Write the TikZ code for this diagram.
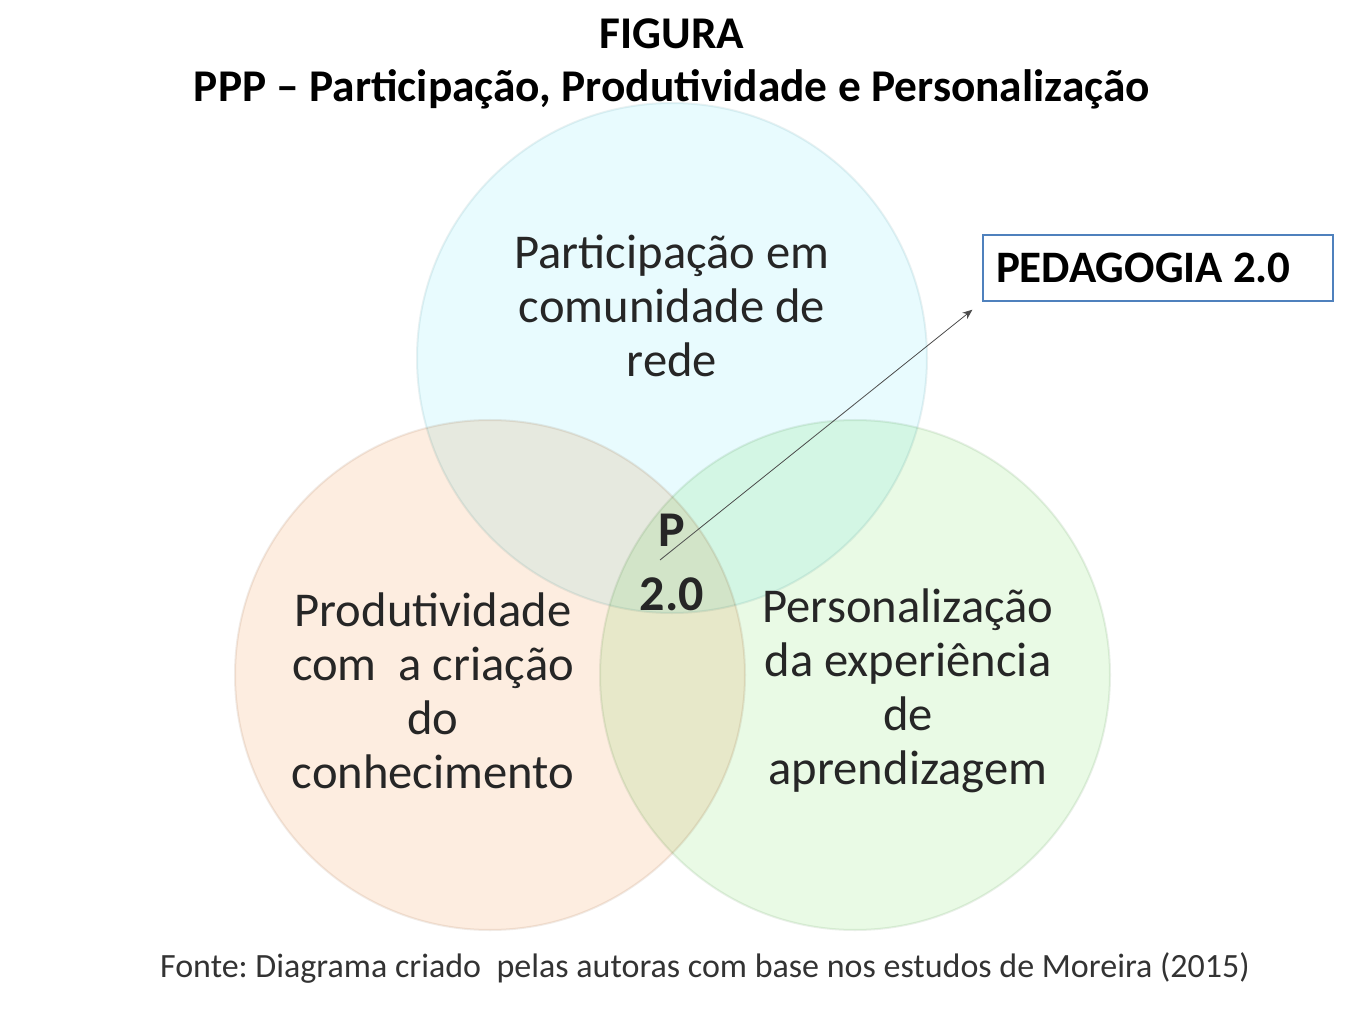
\documentclass[tikz,border=0pt]{standalone}
\usepackage{fontspec}
\setmainfont{Carlito}
\usepackage{xcolor}
\usetikzlibrary{arrows.meta, positioning}

\definecolor{partcol}{RGB}{232,251,254}
\definecolor{prodcol}{RGB}{253,237,224}
\definecolor{perscol}{RGB}{233,250,229}
\definecolor{boxblue}{RGB}{79,129,189}

\frenchspacing
\begin{document}
\begin{tikzpicture}[
    x=0.5pt, y=-0.5pt,
    ring/.style={circle, minimum size=255pt, inner sep=0pt, draw=#1!80!gray!50, fill=#1},
    label/.style={align=center, font=\fontsize{24.3}{27}\selectfont, text=black!85},
    arrow/.style={-{Stealth[length=5pt, width=4pt]}, draw=black!70, thin}
]
\useasboundingbox (0,0) rectangle (1362,1022);

% title
\node[align=center, font=\bfseries\fontsize{22.7}{26.5}\selectfont] (title) at (672,64)
    {FIGURA\\PPP -- Participação, Produtividade e Personalização};

% the three circles
\begin{scope}[blend group=multiply]
\node[ring=partcol] (part) at (672,358) {};
\node[ring=prodcol] (prod) at (490,675) {};
\node[ring=perscol] (pers) at (855,675) {};
\end{scope}

\node[label] (parttext) at (672,306) {Participação em\\comunidade de\\rede};
\node[label] (prodtext) at (433,691) {Produtividade\\com\ \ a criação\\do\\conhecimento};
\node[label] (perstext) at (908,691) {Personalização\\da experiência\\de\\aprendizagem};

% centre
\node[label, font=\bfseries\fontsize{25}{32}\selectfont] (p20) at (672,562) {P\\2.0};
\coordinate (pstart) at (660,560);

% box
\node[draw=boxblue, line width=1.2pt, fill=white, minimum width=175pt, minimum height=33pt,
      font=\bfseries\fontsize{22.5}{24}\selectfont] (peda) at (1158,268) {\makebox[162pt][l]{PEDAGOGIA 2.0}};
\draw[arrow, shorten >=6pt] (pstart) -- (peda.south west);

% source
\node[font=\fontsize{17}{20}\selectfont, text=black!80] (fonte) at (705,968)
    {Fonte: Diagrama criado\ \ pelas autoras com base nos estudos de Moreira (2015)};
\end{tikzpicture}
\end{document}
